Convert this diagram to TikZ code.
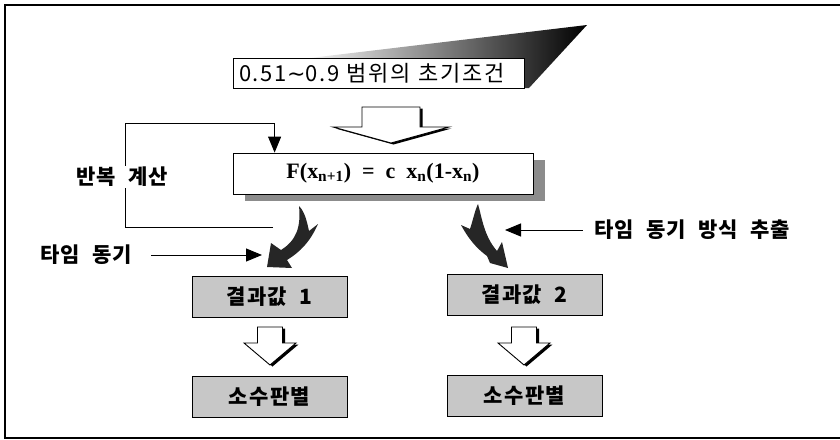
\documentclass[tikz,border=0pt]{standalone}
\usepackage{fontspec}
\setmainfont{Liberation Serif}
\newfontfamily\kr[WordSpace=2, LetterSpace=6]{Noto Sans CJK KR}
\newfontfamily\krtop[LetterSpace=8]{Noto Sans CJK KR}
\newfontfamily\sym{DejaVu Sans}
\usetikzlibrary{arrows.meta, positioning, calc, shadows}

% hollow block arrow: start, tip, shaft half width, head half width, head length
\newcommand{\hollowarrow}[5]{%
  \draw[blockarrow] let \p1=(#1), \p2=(#2) in
    (\x1-#3pt,\y1) -- (\x1+#3pt,\y1) -- (\x1+#3pt,\y2+#5pt) -- (\x1+#4pt,\y2+#5pt)
    -- (\x2,\y2) -- (\x1-#4pt,\y2+#5pt) -- (\x1-#3pt,\y2+#5pt) -- cycle;}

\begin{document}
\begin{tikzpicture}[x=1pt, y=-1pt,
    greybox/.style={draw, line width=0.9pt, fill=black!22, minimum width=155pt, minimum height=41pt, font=\kr\bfseries\fontsize{21}{21}\selectfont},
    sidetext/.style={font=\kr\bfseries\fontsize{21}{21}\selectfont, inner sep=1pt},
    tri/.style={-{Triangle[length=16pt,width=13pt]}, line width=1pt},
    blockarrow/.style={draw, fill=white, line width=0.9pt, drop shadow={shadow xshift=2.5pt, shadow yshift=-1.5pt, fill=black, opacity=1}},
    curvearrow/.style={fill=black!85}]
    \useasboundingbox (0,0) rectangle (840,439);
    \draw[line width=1.5pt] (840,5) -- (5,5) -- (5,438) -- (840,438);

    % top box with its dark wedge
    \shade[left color=black!5, middle color=black!35, right color=black] (310,58) -- (587,25) -- (529,88) -- (524,88) -- (524,58) -- cycle;
    \node[draw, fill=white, line width=0.8pt, minimum width=291pt, minimum height=30pt, text width=279pt, align=left,
          font=\krtop\fontsize{22}{22}\selectfont] (init) at (378.5,73) {0.51{\sym∼}0.9 범위의 초기조건};
    \node[draw, fill=white, line width=0.8pt, minimum width=300pt, minimum height=41pt, font=\bfseries\fontsize{22}{22}\selectfont,
          drop shadow={shadow xshift=12pt, shadow yshift=-7pt, fill=black!45, opacity=1}] (formula) at (383,173.5)
          {F(x\textsubscript{n+1})\ \ =\ \ c\ \ x\textsubscript{n}(1-x\textsubscript{n})};

    \node[greybox] (res1) at (269.5,297) {결과값 1};
    \node[greybox] (res2) at (524.5,295) {결과값 2};
    \node[greybox, below=58pt of res1] (prime1) {소수판별};
    \node[greybox, below=59pt of res2] (prime2) {소수판별};

    % hollow arrows
    \coordinate (a0s) at (391,107);
    \coordinate (a0e) at (391,143);
    \coordinate (a1s) at (270,327);
    \coordinate (a1e) at (270,365);
    \coordinate (a2s) at (524,327);
    \coordinate (a2e) at (524,365);
    \hollowarrow{a0s}{a0e}{29}{58}{16}
    \hollowarrow{a1s}{a1e}{12.5}{26}{22}
    \hollowarrow{a2s}{a2e}{12.5}{26}{22}

    % loop back
    \coordinate (loopstart) at (273,227);
    \draw[tri] (loopstart) -- (125,227) -- (125,123) -| ($(formula.north west)+(42,0)$);
    \node[sidetext, fill=white] (repeat) at (122,177) {반복 계산};

    % curved arrows
    \fill[curvearrow] (299,206) .. controls (301,226) and (297,240) .. (281,250) -- (271,243) -- (267,267) -- (292,268) -- (287,260)
        .. controls (300,252) and (310,242) .. (318,224) -- (309,231) .. controls (307,222) and (305,212) .. cycle;
    \fill[curvearrow] (478,204) .. controls (482,218) and (484,236) .. (497,251) -- (502,242) -- (508,268) -- (490,263) -- (487,256)
        .. controls (476,248) and (468,238) .. (461,225) -- (470,229) .. controls (473,220) and (475,210) .. cycle;

    % side labels
    \node[sidetext] (sync) at (86,255) {타임 동기};
    \coordinate (synctip) at (262,255);
    \draw[tri] ([xshift=18pt]sync.east) -- (synctip);
    \node[sidetext] (extract) at (692,230) {타임 동기 방식 추출};
    \coordinate (extracttip) at (505,230);
    \draw[tri] ([xshift=-10pt]extract.west) -- (extracttip);
\end{tikzpicture}
\end{document}
